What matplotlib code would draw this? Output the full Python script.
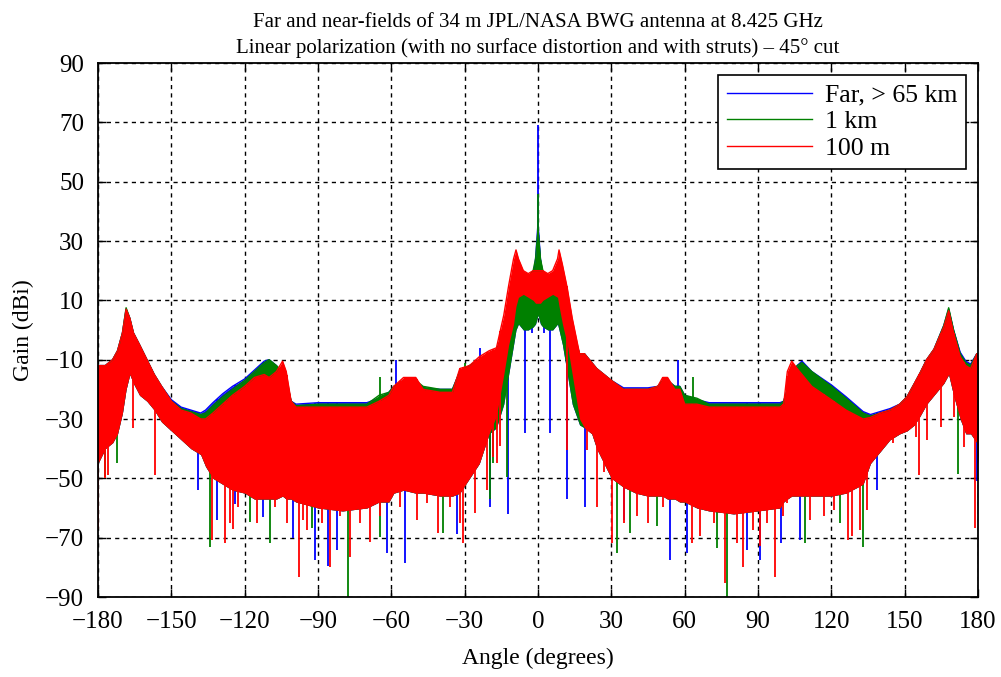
import matplotlib
matplotlib.use("Agg")
import matplotlib.pyplot as plt
import numpy as np

plt.rcParams['font.family'] = ['Liberation Serif', 'DejaVu Serif']

# ---------------- data ----------------
angle_nodes = [
    -180, -177, -174, -172, -170, -168.5, -167, -165.5, -163, -160,
    -157, -154, -150, -146, -142, -138, -136, -133, -129, -125,
    -120, -116, -112, -110, -107, -104.5, -103, -101, -99, -90,
    -80, -70, -65, -61, -59, -55, -50, -47, -40, -35,
    -32, -28, -24, -20, -17, -14, -12, -10, -9, -8,
    -6, -4, -2, -1, 0, 1, 2, 4, 6, 8,
    8.6, 10, 12, 14, 17, 19, 22, 24, 27, 30,
    35, 40, 45, 49, 51, 53, 56, 58, 60, 65,
    70, 80, 90, 99, 100.5, 102, 103.8, 106, 108, 112,
    120, 126, 133, 136, 140, 144, 148, 151, 154, 156.3,
    159, 162, 166, 168, 170, 172.7, 175, 177, 179.5, 180,
]

# 100 m (red) envelope
red_upper = [
    -12, -12, -10, -7, -1, 7, 4, -1, -5, -10,
    -15, -19, -24, -27, -28, -30, -30, -28, -25, -22,
    -19, -16, -15, -16, -14, -10.5, -14, -24, -26, -26,
    -26, -26, -24, -22, -19, -16, -16, -20, -21, -21,
    -13, -12, -9, -7, -6, 5, 15, 24, 27, 24,
    20, 19, 20, 20, 20, 20, 20, 19, 20, 24,
    27, 22, 14, 4, -8, -8, -11, -13, -15, -17,
    -20, -20, -20, -19, -16, -16, -20, -20, -25, -25,
    -26, -26, -26, -26, -25, -14, -10.5, -13, -15, -19,
    -23.5, -27, -30, -29.5, -28, -27, -25, -22.5, -18, -14.5,
    -10, -6.5, 1, 6.5, -1, -9, -12, -13, -8, -10,
]
red_lower = [
    -45, -40, -38, -35, -28, -20, -15, -18, -22, -24,
    -27, -31, -34, -37, -40, -42, -46, -50, -52, -54,
    -55, -57, -57, -57, -57, -56, -57, -57, -58, -60,
    -61, -60, -58, -58, -55, -54, -55, -55, -56, -56,
    -55, -50, -45, -35, -29, -15, -5, 2, 8, 11,
    12, 11, 10, 9, 9, 9, 10, 11, 12, 11,
    8, 2, -5, -15, -30, -33, -35, -40, -45, -50,
    -53, -55, -56, -56, -56, -57, -57, -58, -58, -60,
    -61, -62, -61, -60, -58, -57, -56, -56, -56, -56,
    -56, -55, -52, -45, -41, -37, -35, -34, -32, -29,
    -25, -22, -18, -15, -22, -30, -35, -35, -38, -45,
]

# 1 km (green) envelope
green_upper = [
    -12, -12, -10, -7, -1, 7.5, 4, -1, -5, -10,
    -15, -19, -24, -26.5, -27.5, -28.5, -28, -25.5, -22.5, -20,
    -17, -14, -11, -10, -12, -14, -16, -24, -25.5, -25,
    -25, -25, -22, -21, -19, -17, -17, -19, -20, -20,
    -14, -12, -10, -8, -7, 0, 8, 15, 17, 18,
    17, 18, 20, 24, 34, 24, 20, 18, 17, 18,
    17, 15, 8, 0, -8, -8, -11, -13, -15, -17,
    -20, -20, -20, -19, -17, -17, -19, -19, -22, -23,
    -25, -25, -25, -25, -24, -20, -16, -12, -11, -14,
    -19, -23, -28, -29, -28, -27, -25, -22.5, -18, -14.5,
    -10, -6.5, 1.5, 7.5, 0, -8, -11, -12, -8, -10,
]
green_lower = [
    -45, -40, -38, -35, -28, -20, -15, -18, -22, -24,
    -27, -31, -34, -37, -40, -42, -46, -50, -52, -54,
    -55, -57, -57, -57, -57, -56, -57, -57, -58, -60,
    -61, -60, -58, -58, -55, -54, -55, -55, -56, -56,
    -55, -50, -45, -35, -33, -25, -15, -5, 0, 2,
    0, 0, 1, 2, 5, 2, 1, 0, 0, 2,
    0, -5, -15, -25, -32, -33, -35, -40, -45, -50,
    -53, -55, -56, -56, -56, -57, -57, -58, -58, -60,
    -61, -62, -61, -60, -58, -57, -56, -56, -56, -56,
    -56, -55, -52, -45, -41, -37, -35, -34, -32, -29,
    -25, -22, -18, -15, -22, -30, -35, -35, -38, -45,
]

# far field (blue) envelope
blue_upper = [
    -12, -12, -10, -7, -1, 7, 4, -1, -5, -10,
    -15, -19, -23.5, -26, -27, -28, -27, -24.5, -21.5, -19,
    -16.5, -13.5, -10.5, -10, -12, -15, -17, -24, -25, -24.5,
    -24.5, -24.5, -23, -21, -19, -17, -17, -19.5, -20, -20,
    -14, -12, -10, -8, -7, 0, 7, 13, 15, 16,
    16, 17, 18, 24, 36, 24, 18, 17, 16, 16,
    15, 13, 7, 0, -8, -8, -11, -13, -15, -17,
    -19.5, -19.5, -19.5, -19, -17, -17, -19, -19, -22, -23.5,
    -24.5, -24.5, -24.5, -24.5, -24, -20, -16, -12, -10.5, -14,
    -18.5, -22.5, -27.5, -28.5, -27.5, -26.5, -25, -22.5, -18, -14.5,
    -10, -6.5, 1.5, 7, 0, -7.5, -10.5, -11.5, -8, -10,
]
blue_lower = green_lower

# deep nulls (angle, dB) reaching below the envelopes
red_null_angles = [-180, -177, -175.9, -165.6, -156.7, -133.5, -128, -126, -124.6, -122.6,
                   -119.2, -115.1, -107.6, -102.8, -100.1, -97.6, -96, -94.6, -88.5, -85.1,
                   -81, -76.9, -72.8, -68.7, -64.6, -56.4, -49.6, -45.5, -40.9, -36,
                   -31.9, -30.5, -25.7, -21, -18.3, -16.9, -15.5, 11.8, 20, 24.1,
                   26.8, 30.2, 35, 40.4, 45.2, 51.3, 62.9, 66.3, 71.8, 76.5,
                   81.3, 84, 88.1, 90.9, 93.6, 97, 100.4, 101.8, 111.3, 116.8,
                   120.9, 127, 128.4, 131.8, 134.5, 140, 145.4, 154.7, 156, 159.1,
                   165, 170, 174.1, 178.8]
red_null_values = [-67, -50, -49, -33, -49, -70.8, -71.9, -65.1, -67, -59.5,
                   -55, -65.1, -59.5, -65.1, -53.9, -83.1, -64, -67.4, -65.1, -79.8,
                   -62.8, -76.4, -65.1, -71.6, -62.8, -59.5, -64, -58.4, -68.4, -59.5,
                   -65.1, -71.9, -61.7, -53.9, -42.7, -44.8, -39, -40.4, -40.4, -59.6,
                   -48, -71.9, -65, -62.8, -65, -59.5, -71.9, -69.6, -65.1, -85.4,
                   -71.8, -79.8, -67.3, -72.9, -65.1, -83.1, -62.8, -58.4, -64, -62.8,
                   -60.6, -70.8, -69.6, -67.4, -60.6, -40.4, -38.2, -36, -48.9, -37,
                   -32.6, -29.2, -39.3, -66.8]

green_null_angles = [-177.1, -172.4, -134.2, -117.8, -109.6, -92.6, -77.6, -64.6, -38.7, -18.3,
                     -12.8, -19.6, 32.2, 37.7, 48.6, 73.1, 77.2, 109.3, 123.6, 133.1, 172]
green_null_values = [-49.4, -44.9, -73, -64.7, -71.8, -66.6, -90, -69.7, -68.4, -44.8,
                     -49.5, -57, -75.3, -68.4, -66, -73.4, -90, -71.9, -65, -73, -48.5]

blue_null_angles = [-179.9, -139, -131.5, -124, -112.4, -100.1, -91.2, -85.8, -82.3, -61.9,
                    -54.4, -33.2, -19.6, -12.1, -5.3, -2.5, 2.5, 4.9, 12, 19.3,
                    35, 54, 60.9, 85.4, 90.9, 99.5, 107.2, 138.6, 179.5]
blue_null_values = [-47, -53.9, -64.2, -58.5, -63, -70, -77.5, -79.7, -74.3, -75,
                    -78.6, -68.9, -59.6, -62, -34.7, -1, -1, -34.7, -57, -59.6,
                    -64.2, -77.5, -75, -74, -77.5, -71.9, -70.7, -53.9, -51]

# peaks rising above the envelopes (angle, dB)
red_peak_angles = []
red_peak_values = []
green_peak_angles = [-64.6, -30, 63.5, 0]
green_peak_values = [-16, -11, -16, 46]
blue_peak_angles = [-58, -23.7, 57.3, 0]
blue_peak_values = [-10, -6, -10, 69]

series = [
    ("Far, > 65 km", "#0000ff", blue_upper, blue_lower, blue_null_angles, blue_null_values,
     blue_peak_angles, blue_peak_values),
    ("1 km", "#008000", green_upper, green_lower, green_null_angles, green_null_values,
     green_peak_angles, green_peak_values),
    ("100 m", "#ff0000", red_upper, red_lower, red_null_angles, red_null_values,
     red_peak_angles, red_peak_values),
]

# ---------------- figure ----------------
fig = plt.figure(figsize=(10.01, 6.77), dpi=100)
ax = fig.add_axes([98 / 1001, 1 - 597 / 677, 880 / 1001, 534 / 677])

nodes = np.array(angle_nodes, dtype=float)
for label, color, up, lo, na, nv, pa, pv in series:
    up = np.array(up, dtype=float)
    lo = np.array(lo, dtype=float)
    ax.fill_between(nodes, lo, up, color=color, lw=0, zorder=2)
    ax.plot(nodes, up, color=color, lw=1.0, zorder=2)
    na = np.array(na, dtype=float)
    ax.vlines(na, nv, np.interp(na, nodes, up), color=color, lw=1.3, zorder=2)
    if len(pa):
        pa = np.array(pa, dtype=float)
        ax.vlines(pa, np.interp(pa, nodes, lo), pv, color=color, lw=1.3, zorder=2)
    ax.plot([], [], color=color, lw=1.0, label=label)

ax.set_xlim(-180, 180)
ax.set_ylim(-90, 90)
ax.set_xticks(np.arange(-180, 181, 30))
ax.set_yticks(np.arange(-90, 91, 20))
ax.tick_params(direction='in', top=True, right=True, length=5.5, width=1,
               labelsize=18, pad=10)
ax.set_axisbelow(True)
ax.grid(True, color='black', linestyle=(0, (3, 3)), lw=1.0)
for s in ax.spines.values():
    s.set_linewidth(1.3)

ax.set_xlabel("Angle (degrees)", fontsize=17, labelpad=11)
ax.set_ylabel("Gain (dBi)", fontsize=17, labelpad=8)
ax.set_title("Far and near-fields of 34 m JPL/NASA BWG antenna at 8.425 GHz\n"
             "Linear polarization (with no surface distortion and with struts) \u2013 45\u00b0 cut",
             fontsize=15, pad=7, linespacing=1.45)

leg = ax.legend(loc='upper right', fontsize=18.5, frameon=True, fancybox=False,
                edgecolor='black', framealpha=1, handlelength=3.3, handletextpad=0.5,
                borderaxespad=0.45, labelspacing=0.15, borderpad=0.35)
leg.get_frame().set_linewidth(1.2)

fig.savefig("out.png", dpi=100)
